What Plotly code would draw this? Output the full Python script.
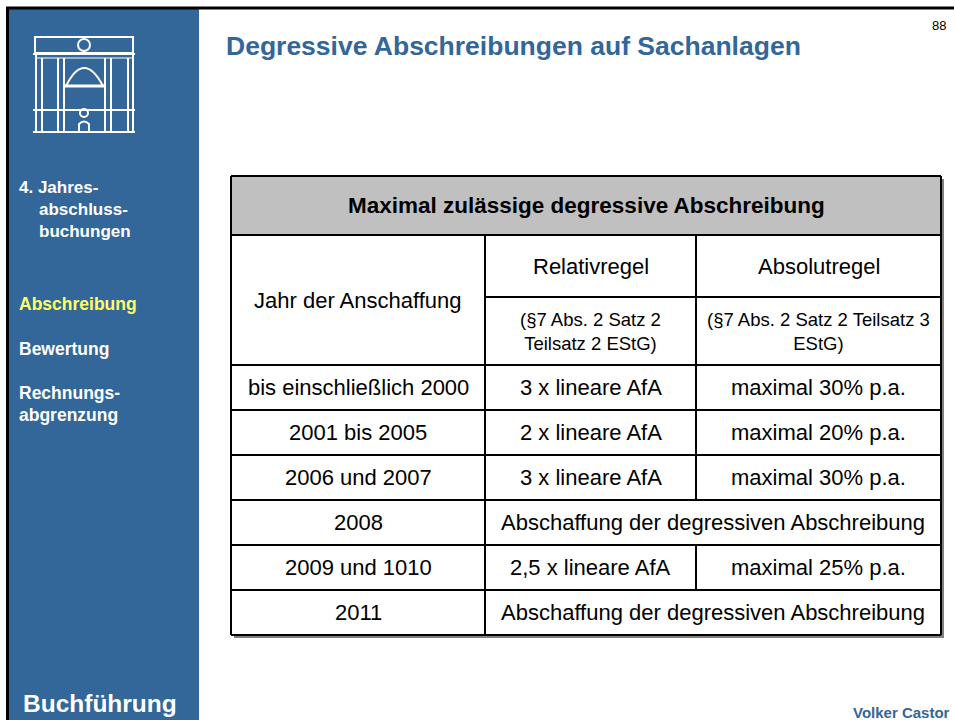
import plotly.graph_objects as go

# ---------------- data ----------------
page_title = "Degressive Abschreibungen auf Sachanlagen"
page_number = "88"
table_title = "Maximal zulässige degressive Abschreibung"
first_col_header = "Jahr der Anschaffung"
rule_names = ["Relativregel", "Absolutregel"]
rule_refs = ["(§7 Abs. 2 Satz 2<br>Teilsatz 2 EStG)", "(§7 Abs. 2 Satz 2 Teilsatz 3<br>EStG)"]
years = ["bis einschließlich 2000", "2001 bis 2005", "2006 und 2007", "2008", "2009 und 1010", "2011"]
relativ = ["3 x lineare AfA", "2 x lineare AfA", "3 x lineare AfA", None, "2,5 x lineare AfA", None]
absolut = ["maximal 30% p.a.", "maximal 20% p.a.", "maximal 30% p.a.", None, "maximal 25% p.a.", None]
merged_text = "Abschaffung der degressiven Abschreibung"
nav_section = ["4. Jahres-", "abschluss-", "buchungen"]
nav_items = [["Abschreibung"], ["Bewertung"], ["Rechnungs-", "abgrenzung"]]
nav_active = "Abschreibung"
footer_left = "Buchführung"
footer_right = "Volker Castor"

# ---------------- styles / geometry ----------------
BLUE = "#336699"
YELLOW = "#ffff66"
FONT = "Liberation Sans, Arial, sans-serif"
W, H = 954, 720

x_left, x_c1, x_c2, x_right = 231, 485, 696, 941
y_top, y_head, y_sub, y_body = 176, 235, 297, 365
row_h = 45

shapes = []
ann = []

def line(x0, y0, x1, y1, color="black", width=2):
    shapes.append(dict(type="line", x0=x0, y0=y0, x1=x1, y1=y1, xref="x", yref="y",
                       line=dict(color=color, width=width)))

def rect(x0, y0, x1, y1, fill, color=None, width=0, layer="below"):
    shapes.append(dict(type="rect", x0=x0, y0=y0, x1=x1, y1=y1, xref="x", yref="y",
                       fillcolor=fill, layer=layer,
                       line=dict(color=color or fill, width=width)))

def text(x, y, s, size, color="black", bold=False, xanchor="center", align="center"):
    if bold:
        s = "<b>" + s + "</b>"
    ann.append(dict(x=x, y=y, xref="x", yref="y", text=s, showarrow=False,
                    xanchor=xanchor, yanchor="middle", align=align,
                    font=dict(family=FONT, size=size, color=color)))

# frame + sidebar
rect(9, 9, 199, H, BLUE)
line(6, 8, W, 8, width=3)
line(7.5, 7, 7.5, H, width=3)

# logo (white line drawing)
lw = 2
for (a, b, c, d) in [(35, 37, 133, 53), (36, 53, 133, 132)]:
    shapes.append(dict(type="rect", x0=a, y0=b, x1=c, y1=d, xref="x", yref="y",
                       line=dict(color="white", width=lw)))
shapes.append(dict(type="circle", x0=78, y0=39, x1=90, y1=51, xref="x", yref="y",
                   line=dict(color="white", width=lw)))
line(33, 54, 135, 54, "white", lw)
line(33, 110, 135, 110, "white", lw)
line(33, 132, 135, 132, "white", lw)
for xv in [42, 58, 64, 105, 111, 128]:
    line(xv, 58, xv, 132, "white", lw)
line(64, 86, 105, 86, "white", 3)
shapes.append(dict(type="path", path="M 66,86 Q 84,50 103,86",
                   xref="x", yref="y", line=dict(color="white", width=lw)))
line(36, 58, 133, 58, "white", 1)
shapes.append(dict(type="circle", x0=80, y0=109, x1=88, y1=117, xref="x", yref="y",
                   line=dict(color="white", width=lw)))
shapes.append(dict(type="path", path="M 79,132 L 79,124 Q 84,119 89,124 L 89,132",
                   xref="x", yref="y", line=dict(color="white", width=lw)))

# sidebar texts
text(17, 187, nav_section[0], 17, "white", True, "left", "left")
for i, s in enumerate(nav_section[1:]):
    text(37, 209 + 22 * i, s, 17, "white", True, "left", "left")
nav_y = [304, 349, 393]
for item, yv in zip(nav_items, nav_y):
    for j, s in enumerate(item):
        text(17, yv + 22 * j, s, 17.5, YELLOW if s == nav_active else "white", True, "left", "left")
text(21, 703, footer_left, 24.5, "white", True, "left", "left")

# title, page number, footer
text(224, 46, page_title, 26.5, BLUE, True, "left", "left")
text(948, 25, page_number, 13, "black", False, "right", "right")
text(851, 712, footer_right, 15, BLUE, True, "left", "left")

# table
y_bottom = y_body + row_h * len(years)
rect(x_left + 3, y_top + 3, x_right + 3, y_bottom + 3, "#808080")
rect(x_left, y_top, x_right, y_bottom, "white")
rect(x_left, y_top, x_right, y_head, "#c0c0c0")

line(x_left, y_top, x_right, y_top)
line(x_left, y_bottom, x_right, y_bottom)
line(x_left, y_top, x_left, y_bottom)
line(x_right, y_top, x_right, y_bottom)
line(x_left, y_head, x_right, y_head)
line(x_c1, y_sub, x_right, y_sub)
line(x_left, y_body, x_right, y_body)
line(x_c1, y_head, x_c1, y_bottom)

cx0 = (x_left + x_c1) / 2
cx1 = (x_c1 + x_c2) / 2
cx2 = (x_c2 + x_right) / 2
cx12 = (x_c1 + x_right) / 2

text((x_left + x_right) / 2, (y_top + y_head) / 2, table_title, 22.5, bold=True)
text(cx0, (y_head + y_body) / 2, first_col_header, 22)
text(cx1, (y_head + y_sub) / 2, rule_names[0], 22)
text(cx2, (y_head + y_sub) / 2, rule_names[1], 22)
text(cx1, (y_sub + y_body) / 2, rule_refs[0], 18.5)
text(cx2, (y_sub + y_body) / 2, rule_refs[1], 18.5)
line(x_c2, y_head, x_c2, y_body)

for i, yr in enumerate(years):
    r0 = y_body + row_h * i
    r1 = r0 + row_h
    ym = (r0 + r1) / 2
    if i > 0:
        line(x_left, r0, x_right, r0)
    text(cx0, ym, yr, 22)
    if relativ[i] is None:
        text(cx12, ym, merged_text, 22)
    else:
        line(x_c2, r0, x_c2, r1)
        text(cx1, ym, relativ[i], 22)
        text(cx2, ym, absolut[i], 22)

fig = go.Figure()
fig.update_layout(
    width=W, height=H,
    margin=dict(l=0, r=0, t=0, b=0),
    paper_bgcolor="white", plot_bgcolor="white",
    xaxis=dict(range=[0, W], visible=False, fixedrange=True),
    yaxis=dict(range=[H, 0], visible=False, fixedrange=True),
    shapes=shapes, annotations=ann, showlegend=False,
)
fig.write_html("out.html", config={"displayModeBar": False},
               post_script="document.body.style.margin='0';document.body.style.overflow='hidden';")
